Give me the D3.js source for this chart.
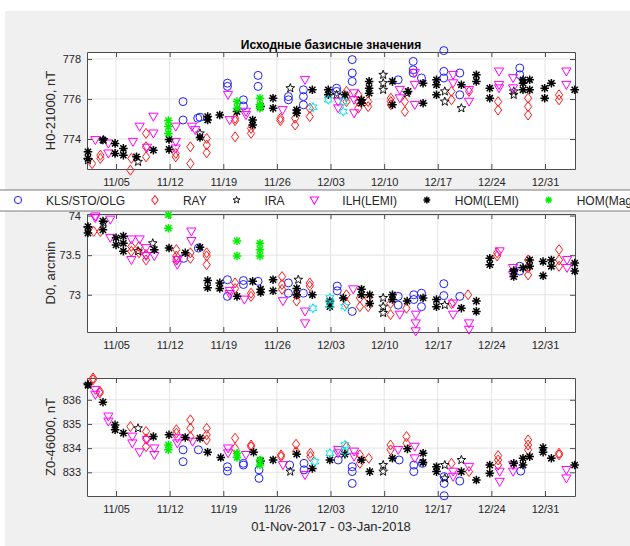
<!DOCTYPE html>
<html><head><meta charset="utf-8">
<script src="https://cdn.jsdelivr.net/npm/d3@7"></script>
<style>
body{margin:0;background:#fff}
svg{display:block;font-family:"Liberation Sans",Arial,Helvetica,sans-serif}
</style>
</head><body>
<svg id="fig" width="630" height="546"></svg>
<script>
// ---- data: [ "MM-DD HH", value ] ----
const tickLabels = ["11/05","11/12","11/19","11/26","12/03","12/10","12/17","12/24","12/31"];
const seriesNames = ["KLS/STO/OLG","RAY","IRA","ILH(LEMI)","HOM(LEMI)","HOM(Mag)"];
const titleText = "Исходные базисные значения";
const xLabelText = "01-Nov-2017 - 03-Jan-2018";

// H0 - 21000, nT
const hKLS = [["11-13 18",775.87],["11-13 18",774.95],["11-15 16",775.04],["11-15 23",775.09],
  ["11-19 13",776.79],["11-19 13",776.63],["11-21 15",775.96],["11-21 15",775.65],
  ["11-23 13",777.18],["11-23 13",776.63],["11-27 12",776.12],["11-27 12",775.96],
  ["11-29 11",776.46],["11-29 11",776.12],["11-29 11",775.71],["12-03 19",776.54],["12-03 19",776.38],
  ["12-05 20",777.97],["12-05 20",777.30],["12-05 20",776.88],["12-11 20",776.96],
  ["12-13 19",777.88],["12-13 19",777.46],["12-13 19",777.30],["12-14 21",777.05],
  ["12-17 19",778.42],["12-17 19",777.38],["12-17 19",777.05],["12-19 21",777.30],["12-19 21",776.21],
  ["12-27 17",777.55],["12-27 17",777.21]];
const hRAY = [["11-01 21",772.77],["11-02 23",773.03],["11-02 23",773.19],["11-06 21",772.44],["11-07 00",773.03],
  ["11-08 22",774.28],["11-08 22",773.61],["11-08 22",773.11],["11-12 19",773.28],["11-12 19",773.11],
  ["11-14 17",773.61],["11-14 17",772.77],["11-16 20",774.03],["11-16 20",773.70],["11-16 20",773.31],
  ["11-20 13",775.04],["11-20 13",774.92],["11-20 13",774.11],["11-22 15",774.53],["11-22 15",774.28],
  ["11-26 11",775.04],["11-26 11",774.92],["11-28 09",775.04],["11-28 09",774.70],
  ["11-30 07",775.54],["11-30 07",775.12],["12-05 02",776.38],["12-05 02",776.12],["12-05 02",775.87],
  ["12-06 15",776.21],["12-06 15",775.87],["12-06 15",775.54],["12-07 22",775.87],["12-07 22",775.62],
  ["12-10 21",776.04],["12-10 21",775.87],["12-10 21",775.71],["12-12 17",775.87],["12-12 17",775.37],
  ["12-18 19",776.38],["12-18 19",775.96],["12-21 02",776.38],["12-24 21",775.87],["12-24 21",775.45],
  ["12-28 19",776.04],["12-28 19",775.62],["12-28 19",775.20],["01-01 20",776.21],["01-01 20",775.96]];
const hIRA = [["11-01 08",772.94],["11-03 09",773.95],["11-07 21",772.86],["11-15 23",774.28],["11-27 18",776.54],
  ["12-03 19",776.21],["12-09 21",777.21],["12-09 21",776.79],["12-09 21",776.46],["12-13 00",776.29],
  ["12-17 22",776.38],["12-17 22",775.87],["12-20 02",775.54],["12-26 22",776.38],["12-26 22",776.21]];
const hILH = [["11-02 07",773.95],["11-04 00",773.78],["11-04 00",773.28],["11-07 05",773.86],["11-08 02",774.62],
  ["11-09 01",773.57],["11-09 21",775.12],["11-09 21",774.28],["11-12 19",774.62],["11-12 19",773.86],["11-12 19",773.53],
  ["11-14 22",774.62],["11-15 08",774.45],["11-19 15",776.21],["11-19 20",774.95],["11-21 23",775.37],["11-21 23",775.20],
  ["11-26 18",775.45],["11-29 16",776.96],["12-04 00",775.87],["12-04 00",775.54],
  ["12-06 02",776.29],["12-06 02",775.96],["12-06 02",775.29],["12-12 01",776.46],["12-12 01",776.04],
  ["12-14 00",777.30],["12-14 00",776.71],["12-14 00",775.71],["12-19 00",777.21],["12-19 00",776.79],
  ["12-21 02",776.46],["12-21 02",775.87],["12-25 00",777.38],["12-25 00",776.71],["12-25 00",776.54],
  ["12-26 20",777.05],["12-26 20",776.54],["01-02 19",777.38],["01-02 19",776.71]];
const hHOM = [["11-01 08",773.36],["11-01 08",773.03],["11-03 07",773.95],["11-04 21",773.78],["11-04 21",773.28],
  ["11-05 23",773.53],["11-05 23",773.19],["11-07 16",773.11],["11-09 21",773.44],["11-11 22",773.98],["11-11 22",773.48],
  ["11-15 23",774.08],["11-16 23",775.12],["11-16 23",774.95],["11-18 13",775.20],["11-20 19",775.37],
  ["11-22 20",774.95],["11-22 20",774.70],["11-23 21",775.62],["11-25 12",776.04],["11-25 12",775.54],
  ["11-28 14",775.45],["11-28 14",775.29],["11-30 15",776.46],["12-02 17",776.46],["12-02 17",776.21],
  ["12-04 21",776.21],["12-07 01",775.96],["12-07 01",775.79],["12-08 01",776.88],["12-08 01",776.54],["12-08 01",776.29],
  ["12-11 02",776.88],["12-11 02",775.71],["12-13 03",776.38],["12-15 02",776.79],["12-15 02",775.79],
  ["12-16 20",776.96],["12-16 20",776.71],["12-16 20",776.21],["12-20 02",776.71],["12-22 01",777.21],["12-22 01",776.88],
  ["12-23 19",776.54],["12-23 19",776.04],["12-28 03",776.96],["12-28 03",776.79],["12-28 03",776.46],
  ["12-29 00",776.96],["12-29 00",776.46],["12-30 23",776.54],["12-30 23",776.04],["12-31 20",776.79],["01-03 21",776.46]];
const hMAG = [["11-11 20",774.92],["11-11 20",774.62],["11-11 20",774.28],["11-20 19",775.87],["11-20 19",775.54],
  ["11-23 19",776.04],["11-23 19",775.71],["11-23 19",775.54]];
const hOther = [["11-30 17",775.59],["12-02 17",775.96],["12-04 16",775.87],["12-04 16",775.37]];

// D0, arcmin
const dKLS = [["11-13 20",73.46],["11-15 18",73.59],["11-19 13",73.19],["11-19 13",72.98],["11-21 15",73.18],["11-21 15",73.13],
  ["11-23 13",73.17],["11-27 12",73.15],["11-27 12",73.02],["11-29 11",73.02],["12-03 21",73.11],["12-03 21",73.05],
  ["12-05 20",72.79],["12-11 20",72.98],["12-11 20",72.87],["12-13 21",73.00],["12-13 21",72.94],
  ["12-14 21",73.02],["12-14 21",72.85],["12-17 19",73.14],["12-17 19",72.99],["12-19 21",72.98],
  ["12-27 17",73.36],["12-27 17",73.30]];
const dRAY = [["11-02 02",73.80],["11-02 23",73.80],["11-07 00",73.61],["11-07 00",73.55],["11-08 00",73.61],["11-08 00",73.53],
  ["11-08 22",73.51],["11-08 22",73.44],["11-12 21",73.57],["11-12 21",73.49],["11-12 21",73.44],
  ["11-14 17",73.53],["11-14 17",73.46],["11-16 20",73.53],["11-16 20",73.49],["11-16 20",73.38],
  ["11-20 13",73.15],["11-20 13",73.08],["11-22 15",73.02],["11-22 15",72.98],
  ["11-26 16",73.23],["11-26 16",73.13],["11-26 16",73.07],["11-28 14",73.00],["11-28 14",72.92],
  ["11-30 07",73.15],["11-30 07",73.11],["12-05 02",73.00],["12-05 02",72.89],["12-06 20",72.96],["12-06 20",72.85],
  ["12-07 22",72.96],["12-07 22",72.85],["12-10 20",72.89],["12-10 20",72.75],["12-12 22",72.83],
  ["12-18 19",72.89],["12-20 23",73.00],["12-24 18",73.53],["12-24 18",73.49],
  ["12-28 19",73.44],["12-28 19",73.34],["12-28 19",73.25],["01-01 20",73.57],["01-01 20",73.44],["01-01 20",73.36]];
const dIRA = [["11-01 08",73.84],["11-03 09",73.91],["11-07 21",73.55],["11-09 19",73.65],["11-28 19",73.19],
  ["12-09 21",72.96],["12-09 21",72.85],["12-09 21",72.77],["12-17 22",72.87],["12-26 22",73.30]];
const dILH = [["11-02 07",73.99],["11-02 07",73.97],["11-04 06",73.95],["11-04 06",73.72],["11-07 00",73.70],["11-07 00",73.44],
  ["11-08 02",73.70],["11-08 22",73.59],["11-08 22",73.49],["11-10 00",73.49],["11-13 00",73.44],["11-13 00",73.38],
  ["11-14 20",73.80],["11-14 20",73.68],["11-19 20",73.05],["11-19 20",73.01],["11-21 18",72.94],["11-26 19",72.92],
  ["11-29 16",72.79],["11-29 16",72.64],["12-05 23",73.07],["12-12 01",72.75],
  ["12-14 03",72.75],["12-14 03",72.64],["12-14 03",72.54],["12-19 00",72.89],["12-19 00",72.75],
  ["12-21 02",72.64],["12-21 02",72.56],["12-25 02",73.55],["12-26 20",73.34],["12-26 20",73.25],
  ["01-02 21",73.44],["01-02 21",73.34]];
const dHOM = [["11-01 08",73.86],["11-01 08",73.78],["11-03 07",73.93],["11-03 07",73.82],["11-05 00",73.72],["11-05 00",73.63],
  ["11-05 23",73.74],["11-05 23",73.65],["11-05 23",73.55],["11-10 00",73.57],["11-11 22",73.59],["11-14 01",73.53],
  ["11-15 23",73.60],["11-16 23",73.18],["11-16 23",73.09],["11-18 13",73.15],["11-18 13",73.08],["11-20 19",72.98],
  ["11-22 20",73.17],["11-23 21",73.07],["11-23 21",73.03],["11-25 12",73.19],["11-25 12",73.05],
  ["11-28 14",73.08],["11-28 14",73.00],["11-30 15",73.00],["12-02 22",72.92],["12-02 22",72.85],["12-04 16",72.96],
  ["12-07 01",73.07],["12-07 01",73.00],["12-08 03",73.00],["12-08 03",72.89],["12-11 02",73.00],["12-11 02",72.94],
  ["12-13 00",72.92],["12-15 02",72.96],["12-16 20",72.94],["12-16 20",72.85],["12-20 02",72.83],
  ["12-22 01",72.92],["12-22 01",72.79],["12-23 19",73.46],["12-23 19",73.38],["12-26 22",73.30],["12-26 22",73.23],
  ["12-28 03",73.34],["12-29 00",73.44],["12-29 00",73.36],["12-30 18",73.42],["12-30 18",73.24],
  ["12-31 20",73.44],["12-31 20",73.36],["01-03 21",73.40],["01-03 21",73.30]];
const dMAG = [["11-11 20",74.01],["11-11 20",73.84],["11-20 19",73.68],["11-20 19",73.49],
  ["11-23 19",73.65],["11-23 19",73.57],["11-23 19",73.49]];
const dOther = [["11-30 17",72.83],["12-02 22",72.96],["12-02 22",72.87],["12-04 21",72.85]];

// Z0 - 46000, nT
const zKLS = [["11-13 18",833.93],["11-13 18",833.44],["11-15 18",833.93],["11-19 13",833.23],["11-19 13",833.05],
  ["11-21 15",833.37],["11-21 15",833.30],["11-23 16",833.10],["11-23 16",832.75],["11-27 16",833.30],
  ["11-29 13",833.37],["11-29 13",833.10],["12-04 00",833.51],["12-05 20",833.23],["12-05 20",833.03],["12-05 20",832.54],
  ["12-11 23",833.51],["12-13 21",833.30],["12-13 21",833.03],["12-15 00",833.37],
  ["12-17 20",832.82],["12-17 20",832.54],["12-17 20",832.03],["12-19 21",832.64],["12-27 20",833.05]];
const zRAY = [["11-02 00",836.90],["11-02 00",836.83],["11-02 21",836.35],["11-02 21",836.28],["11-06 21",834.89],
  ["11-08 22",834.69],["11-08 22",834.38],["11-08 22",834.06],["11-12 21",834.76],["11-12 21",834.62],
  ["11-14 17",835.17],["11-14 17",834.82],["11-14 17",834.48],["11-16 20",834.82],["11-16 20",834.55],["11-16 20",834.34],
  ["11-20 13",834.41],["11-20 13",833.99],["11-22 15",834.13],["11-22 15",834.06],["11-26 13",833.72],["11-26 13",833.65],
  ["11-28 12",834.16],["11-28 12",833.86],["11-30 09",833.79],["11-30 09",833.65],["12-05 02",834.06],
  ["12-06 20",833.72],["12-06 20",833.37],["12-08 00",833.58],["12-10 20",834.13],["12-10 20",833.93],
  ["12-12 22",834.48],["12-12 22",834.20],["12-18 19",833.37],["12-21 02",833.03],
  ["12-24 21",833.69],["12-24 21",833.51],["12-24 21",833.30],["12-28 19",834.34],["12-28 19",834.13],["12-28 19",833.93],
  ["01-01 20",833.79],["01-01 20",833.72]];
const zIRA = [["11-01 08",836.62],["11-07 21",834.82],["11-27 18",833.03],["12-09 21",833.30],["12-09 21",833.03],
  ["12-17 22",833.30],["12-17 22",832.75],["12-20 02",833.51]];
const zILH = [["11-02 07",836.41],["11-02 07",836.21],["11-04 00",835.31],["11-04 00",835.10],["11-07 03",834.48],["11-07 03",834.20],
  ["11-08 02",833.83],["11-09 01",834.34],["11-10 00",833.99],["11-10 00",833.72],["11-13 00",834.41],["11-13 00",834.20],
  ["11-15 00",834.27],["11-19 15",833.99],["11-19 15",833.79],["11-21 23",833.72],["11-26 19",833.30],["11-29 16",832.89],
  ["12-04 00",833.93],["12-04 00",833.79],["12-06 02",833.86],["12-06 02",833.65],["12-11 20",833.93],
  ["12-14 00",834.06],["12-14 00",833.58],["12-19 00",833.03],["12-19 00",832.82],["12-21 02",833.23],
  ["12-25 02",833.03],["12-25 02",832.61],["12-26 20",833.30],["12-26 20",833.03],["01-02 19",833.10],["01-02 19",832.75]];
const zHOM = [["11-01 08",836.62],["11-03 07",835.90],["11-04 21",834.96],["11-04 21",834.76],["11-05 23",834.62],
  ["11-09 21",834.48],["11-11 22",834.55],["11-14 01",834.44],["11-15 23",834.41],["11-16 23",833.83],["11-18 16",833.61],
  ["11-22 23",833.83],["11-23 21",833.47],["11-25 12",833.51],["11-28 14",833.75],["11-30 15",833.16],
  ["12-02 22",833.51],["12-04 21",833.75],["12-07 01",833.51],["12-08 03",833.03],["12-11 02",833.58],["12-13 01",833.97],
  ["12-15 02",833.79],["12-15 02",833.41],["12-16 20",833.23],["12-16 20",833.03],["12-20 02",833.03],["12-22 01",832.68],
  ["12-23 19",833.30],["12-23 19",832.96],["12-26 22",833.37],["12-28 03",833.58],["12-28 03",833.30],["12-29 00",833.65],
  ["12-30 18",834.02],["12-30 18",833.83],["12-31 20",833.58],["01-03 21",833.30]];
const zMAG = [["11-11 20",834.13],["11-11 20",833.93],["11-20 19",833.79],["11-20 19",833.61],["11-23 19",833.51],["11-23 19",833.30]];
const zOther = [["11-30 23",833.44],["12-02 22",833.79],["12-04 21",834.13],["12-04 21",833.86]];

// ---- helpers ----
const parseStamp = d3.timeParse("%Y-%m-%d %H");
const when = s => parseStamp((s.startsWith("01") ? "2018-" : "2017-") + s);
const tickParse = d3.timeParse("%Y/%m/%d");
const tickDates = tickLabels.map(t => tickParse("2017/" + t));

function starPath(points, rOut, rIn) {
  const p = [];
  for (let i = 0; i < points * 2; i++) {
    const r = i % 2 ? rIn : rOut;
    const a = -Math.PI / 2 + i * Math.PI / points;
    p.push([r * Math.cos(a), r * Math.sin(a)]);
  }
  return "M" + p.map(q => q[0].toFixed(2) + "," + q[1].toFixed(2)).join("L") + "Z";
}
const asterisk = "M-4.3,0H4.3M0,-4.3V4.3M-3.1,-3.1L3.1,3.1M-3.1,3.1L3.1,-3.1";
const markerStyles = [
  {color: "#2020ff", kind: "circle"},
  {color: "#ff1a1a", kind: "path", d: "M0,-5L3.6,0L0,5L-3.6,0Z"},
  {color: "#111", kind: "path", d: starPath(5, 4.6, 1.9)},
  {color: "#ff00ff", kind: "path", d: "M-4.6,-3.4L4.6,-3.4L0,4.6Z"},
  {color: "#000", kind: "path", d: asterisk, sw: 1.5},
  {color: "#00f000", kind: "path", d: asterisk, sw: 1.5},
  {color: "#00e5e5", kind: "path", d: starPath(6, 4.6, 2.4)}
];

function drawMarker(g, style, x, y, scale = 1) {
  if (style.kind === "circle") {
    g.append("circle").attr("cx", x).attr("cy", y).attr("r", 4 * scale)
      .attr("fill", "none").attr("stroke", style.color).attr("stroke-width", 1);
  } else {
    g.append("path").attr("d", style.d).attr("transform", `translate(${x},${y}) scale(${scale})`)
      .attr("fill", "none").attr("stroke", style.color).attr("stroke-width", (style.sw || 1) / scale)
      .attr("stroke-linejoin", "miter");
  }
}

const svg = d3.select("#fig");
svg.append("rect").attr("x", 5).attr("y", 11).attr("width", 630).attr("height", 540).attr("fill", "#f0f0f0");

const x = d3.scaleTime()
  .domain([new Date(2017, 10, 1, 5), new Date(2018, 0, 3, 22)])
  .range([87, 575]);

const panels = [
  {top: 52, bottom: 169, domain: [772.5, 778.35], ticks: [774, 776, 778], fmt: d3.format("d"),
   label: "H0-21000, nT", series: [hKLS, hRAY, hIRA, hILH, hHOM, hMAG, hOther]},
  {top: 214, bottom: 332, domain: [72.53, 74.02], ticks: [73, 73.5, 74], fmt: d => String(d),
   label: "D0, arcmin", series: [dKLS, dRAY, dIRA, dILH, dHOM, dMAG, dOther]},
  {top: 378, bottom: 496, domain: [832.02, 836.9], ticks: [833, 834, 835, 836], fmt: d3.format("d"),
   label: "Z0-46000, nT", series: [zKLS, zRAY, zIRA, zILH, zHOM, zMAG, zOther]}
];

const axisColor = "#4d4d4d", textColor = "#262626";

panels.forEach(p => {
  const y = d3.scaleLinear().domain(p.domain).range([p.bottom, p.top]);
  const g = svg.append("g");
  g.append("rect").attr("x", 87).attr("y", p.top).attr("width", 488).attr("height", p.bottom - p.top).attr("fill", "#fff");
  // grid
  g.append("g").selectAll("line").data(tickDates).join("line")
    .attr("x1", d => x(d)).attr("x2", d => x(d)).attr("y1", p.top).attr("y2", p.bottom)
    .attr("stroke", "#e3e3e3").attr("stroke-width", 1);
  g.append("g").selectAll("line").data(p.ticks).join("line")
    .attr("x1", 87).attr("x2", 575).attr("y1", d => y(d)).attr("y2", d => y(d))
    .attr("stroke", "#e3e3e3").attr("stroke-width", 1);

  // axes
  const styleAxis = sel => {
    sel.select(".domain").attr("stroke", axisColor);
    sel.selectAll(".tick line").attr("stroke", axisColor);
    sel.selectAll("text").attr("fill", textColor).attr("font-size", 11)
      .attr("font-family", '"Liberation Sans",Arial,sans-serif');
  };
  g.append("g").attr("transform", `translate(0,${p.bottom})`)
    .call(d3.axisBottom(x).tickValues(tickDates).tickFormat(d3.timeFormat("%m/%d")).tickSizeInner(-5).tickSizeOuter(0).tickPadding(9))
    .call(styleAxis);
  g.append("g").attr("transform", `translate(0,${p.top})`)
    .call(d3.axisTop(x).tickValues(tickDates).tickFormat("").tickSizeInner(-5).tickSizeOuter(0))
    .call(styleAxis);
  g.append("g").attr("transform", "translate(87,0)")
    .call(d3.axisLeft(y).tickValues(p.ticks).tickFormat(p.fmt).tickSizeInner(-5).tickSizeOuter(0).tickPadding(6))
    .call(styleAxis);
  g.append("g").attr("transform", "translate(575,0)")
    .call(d3.axisRight(y).tickValues(p.ticks).tickFormat("").tickSizeInner(-5).tickSizeOuter(0))
    .call(styleAxis);

  // y label
  svg.append("text").attr("transform", `translate(50,${(p.top + p.bottom) / 2}) rotate(-90)`)
    .attr("text-anchor", "middle").attr("dy", "0.35em").attr("font-size", 13).attr("fill", textColor)
    .text(p.label);

  // markers
  const mg = svg.append("g");
  p.series.forEach((s, i) => {
    s.forEach(([t, v]) => drawMarker(mg, markerStyles[i], x(when(t)), y(v)));
  });
});

// title
svg.append("text").attr("x", 331).attr("y", 49).attr("text-anchor", "middle")
  .attr("font-size", 12).attr("font-weight", "bold").attr("fill", "#000").text(titleText);

// x label
svg.append("text").attr("x", 331).attr("y", 531).attr("text-anchor", "middle")
  .attr("font-size", 13).attr("fill", textColor).text(xLabelText);

// legend (horizontal, wider than the figure)
const lg = svg.append("g");
lg.append("rect").attr("x", -2).attr("y", 190).attr("width", 640).attr("height", 21)
  .attr("fill", "#fff").attr("stroke", "#7a7a7a").attr("stroke-width", 1);
let lx = 18;
seriesNames.forEach((name, i) => {
  drawMarker(lg, markerStyles[i], lx, 200, (i === 2 || i === 4 || i === 5) ? 0.8 : 0.9);
  const t = lg.append("text").attr("x", lx + 28).attr("y", 204.5).attr("font-size", 12)
    .attr("fill", textColor).text(name);
  lx += 28 + t.node().getComputedTextLength() + 29.8;
});
</script>
</body></html>
